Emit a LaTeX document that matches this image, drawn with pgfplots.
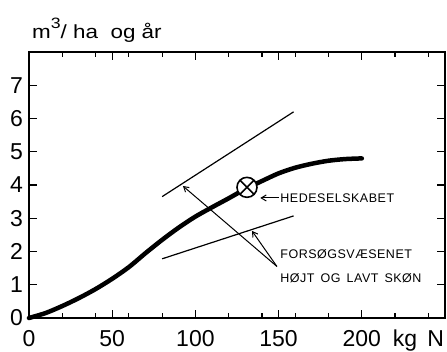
\documentclass[border=0pt]{standalone}
\usepackage{fontspec}
\setmainfont{Liberation Sans}
\newfontfamily\lab[LetterSpace=4]{Liberation Sans}
\newfontfamily\wide[FakeStretch=1.18]{Liberation Sans}
\usepackage{pgfplots}
\pgfplotsset{compat=1.18}
\usetikzlibrary{arrows.meta,plotmarks}
\begin{document}
\begin{tikzpicture}
\path[use as bounding box] (-29pt,-33pt) rectangle (418pt,318pt);
\begin{axis}[
  scale only axis, width=416pt, height=266pt,
  at={(0pt,0pt)}, anchor=south west,
  xmin=0, xmax=250, ymin=0, ymax=8,
  axis line style={line width=1.6pt},
  xtick={0,50,100,150,200}, minor xtick={20,40,...,240},
  ytick={0,...,7},
  major tick length=8pt, minor tick length=5pt,
  every tick/.style={line width=1.2pt, black},
  tick align=inside,
  ticklabel style={font=\fontsize{23}{23}\selectfont},
  /pgf/number format/assume math mode=true,
  xticklabel style={anchor=base, yshift=-28.5pt},
  yticklabel style={anchor=east, inner sep=0pt, xshift=-6pt},
  clip=false,
]
\addplot[black, line width=4.5pt, line cap=round, smooth] coordinates {
(0,0) (10,0.15) (20,0.36) (30,0.6) (40,0.87) (50,1.18) (60,1.53) (70,1.95)
(80,2.35) (90,2.72) (100,3.05) (110,3.33) (120,3.6) (130,3.88) (140,4.12)
(150,4.35) (160,4.52) (170,4.64) (180,4.73) (190,4.78) (200,4.8)};
\addplot[black, line width=1.2pt] coordinates {(80,3.65) (159,6.2)};
\addplot[black, line width=1.2pt] coordinates {(80,1.78) (159,3.07)};
\addplot[black, only marks, mark=otimes*, mark size=10pt,
  mark options={fill=white, line width=1.6pt}] coordinates {(131,3.93)};
\draw[line width=1pt, -{Straight Barb[length=5pt,width=6pt]}] (axis cs:149,1.55) -- (axis cs:92.5,3.97);
\draw[line width=1pt, -{Straight Barb[length=5pt,width=6pt]}] (axis cs:149,1.55) -- (axis cs:134,2.62);
\draw[line width=1pt, -{Straight Barb[length=5pt,width=6pt]}] (axis cs:150,3.61) -- (axis cs:139,3.61);
\node[anchor=west, inner sep=0pt, font=\fontsize{12.5}{12.5}\lab] at (axis cs:151,3.61) {HEDESELSKABET};
\node[anchor=west, inner sep=0pt, font=\fontsize{12.5}{12.5}\lab] at (axis cs:151,1.92) {FORSØGSVÆSENET};
\node[anchor=west, inner sep=0pt, font=\fontsize{12.5}{12.5}\lab] at (axis cs:151,1.2) {HØJT\, OG\, LAVT\, SKØN};
\node[anchor=base west, inner sep=0pt, font=\fontsize{23}{23}\selectfont] at (axis cs:218.6,0) [yshift=-28.5pt] {kg\ \,N};
\node[anchor=base west, inner sep=0pt, font=\fontsize{19}{19}\wide] at (rel axis cs:0,1) [xshift=3pt, yshift=14pt] {m\raisebox{0.5em}{\fontsize{15}{15}\selectfont 3}/ ha\ \ og år};
\end{axis}
\end{tikzpicture}
\end{document}
